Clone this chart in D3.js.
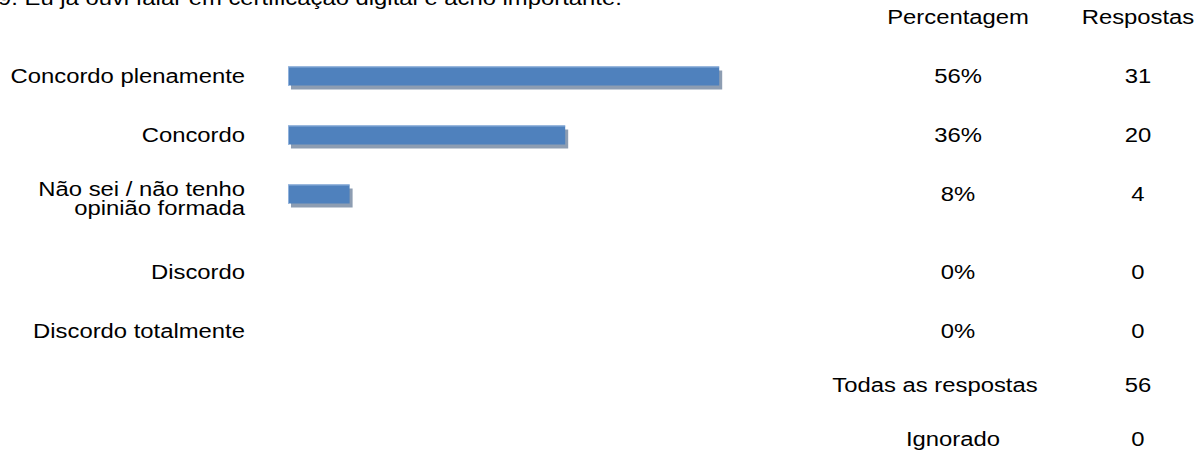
<!DOCTYPE html>
<html>
<head>
<meta charset="utf-8">
<script src="https://cdn.jsdelivr.net/npm/d3@7"></script>
<style>
  html, body { margin: 0; padding: 0; background: #ffffff; }
  svg { display: block; }
  text { font-family: "Liberation Sans", Arial, sans-serif; fill: #000; }
</style>
</head>
<body>
<svg id="chart" width="1197" height="450"></svg>
<script>
const title = "9. Eu já ouvi falar em certificação digital e acho importante.";
const categories = [
  ["Concordo plenamente"],
  ["Concordo"],
  ["Não sei / não tenho", "opinião formada"],
  ["Discordo"],
  ["Discordo totalmente"]
];
const percentages = [56, 36, 8, 0, 0];
const responses = [31, 20, 4, 0, 0];
const headerLabels = ["Percentagem", "Respostas"];
const footerLabels = ["Todas as respostas", "Ignorado"];
const footerValues = [56, 0];

const svg = d3.select("#chart");
const fontSize = 21;
const stretch = 1.135;

const x = d3.scaleLinear().domain([0, 100]).range([288, 288 + 770]);

const pctX = 958, respX = 1138, labelX = 245;
const rowStep = 59, extraLine = 18.5, lineGap = 20, firstY = 76, baseOff = 7, footerStep = 54;

function addText(parent, px, py, lines, anchor) {
  const g = parent.append("g").attr("transform", `translate(${px},${py}) scale(${stretch},1)`);
  const t = g.append("text").attr("text-anchor", anchor).attr("font-size", fontSize);
  [].concat(lines).forEach((ln, j) => {
    t.append("tspan").attr("x", 0).attr("dy", j === 0 ? 0 : lineGap).text(ln);
  });
  return g;
}

// row centre y positions
const rowCenters = [];
let acc = firstY;
categories.forEach((c) => {
  rowCenters.push(acc);
  acc += rowStep + extraLine * (c.length - 1);
});
const lastRow = rowCenters[rowCenters.length - 1];
const footerCenters = footerLabels.map((_, k) => lastRow + footerStep * (k + 1));

// title (clipped at top, as in the source)
addText(svg, -2, 5, title, "start");

// headers
addText(svg, pctX, 24, headerLabels[0], "middle");
addText(svg, respX, 24, headerLabels[1], "middle");

const barH = 19;
const rows = svg.append("g").selectAll("g").data(categories).join("g");

// category labels
rows.each(function(lines, i) {
  addText(d3.select(this), labelX, rowCenters[i] + baseOff - (lines.length - 1) * 5.5, lines, "end");
});

// bar shadows and bars
rows.each(function(d, i) {
  if (percentages[i] <= 0) return;
  const g = d3.select(this);
  const y0 = rowCenters[i] - barH / 2;
  const w = x(percentages[i]) - x(0);
  g.append("rect")
    .attr("x", x(0) + 3).attr("y", y0 + 4)
    .attr("width", w).attr("height", barH)
    .attr("fill", "#8d9db2");
  g.append("rect")
    .attr("x", x(0)).attr("y", y0)
    .attr("width", w).attr("height", barH)
    .attr("fill", "#4f81bd");
  g.append("path")
    .attr("d", `M${x(0)+0.5},${y0+barH}V${y0+0.5}H${x(percentages[i])}`)
    .attr("fill", "none").attr("stroke", "#8fb1dc").attr("stroke-width", 1);
});

// percentages and responses
rows.each(function(d, i) {
  const g = d3.select(this);
  addText(g, pctX, rowCenters[i] + baseOff, percentages[i] + "%", "middle");
  addText(g, respX, rowCenters[i] + baseOff, String(responses[i]), "middle");
});

// footer
const footerLabelX = [935, 953];
footerLabels.forEach((lab, k) => {
  addText(svg, footerLabelX[k], footerCenters[k] + baseOff, lab, "middle");
  addText(svg, respX, footerCenters[k] + baseOff, String(footerValues[k]), "middle");
});
</script>
</body>
</html>
